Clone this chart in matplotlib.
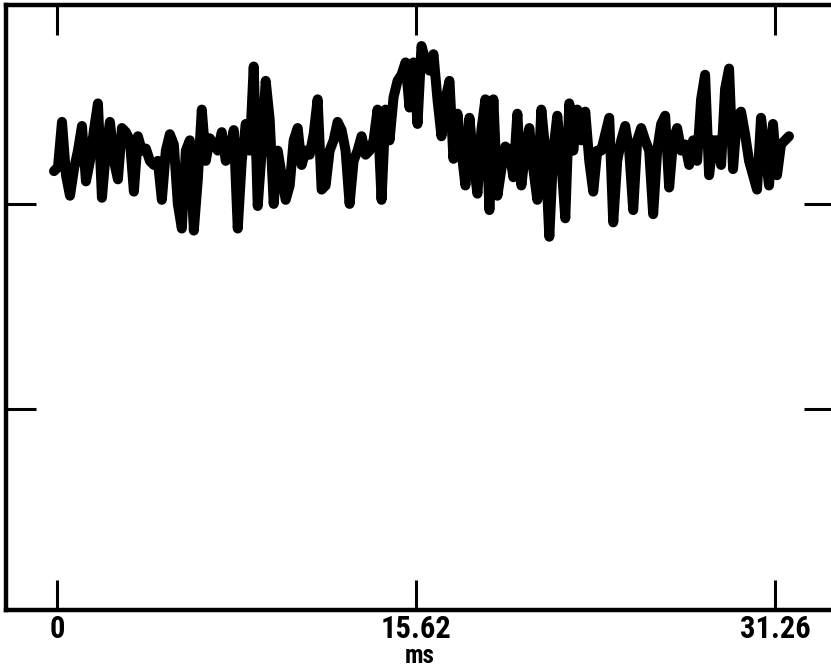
import numpy as np
import matplotlib
matplotlib.use("Agg")
import matplotlib.pyplot as plt
from matplotlib import font_manager as fm

# signal amplitude (arbitrary units), uniformly sampled
signal = [
    1.16, 1.18, 1.40, 1.14, 1.04, 1.17, 1.26, 1.38, 1.11, 1.21,
    1.36, 1.49, 1.03, 1.26, 1.40, 1.21, 1.12, 1.37, 1.35, 1.31,
    1.06, 1.33, 1.26, 1.27, 1.21, 1.19, 1.21, 1.02, 1.26, 1.34,
    1.29, 1.00, 0.88, 1.26, 1.31, 0.87, 1.12, 1.46, 1.21, 1.32,
    1.29, 1.26, 1.35, 1.21, 1.26, 1.36, 0.88, 1.21, 1.39, 1.26,
    1.67, 0.99, 1.26, 1.60, 1.41, 1.00, 1.26, 1.14, 1.02, 1.09,
    1.31, 1.37, 1.19, 1.26, 1.24, 1.34, 1.51, 1.07, 1.09, 1.26,
    1.31, 1.40, 1.36, 1.26, 1.00, 1.21, 1.26, 1.33, 1.24, 1.26,
    1.31, 1.46, 1.02, 1.46, 1.31, 1.52, 1.60, 1.63, 1.69, 1.47,
    1.69, 1.39, 1.77, 1.70, 1.65, 1.73, 1.51, 1.33, 1.51, 1.60,
    1.22, 1.44, 1.26, 1.09, 1.42, 1.21, 1.05, 1.36, 1.51, 0.97,
    1.51, 1.04, 1.17, 1.28, 1.26, 1.13, 1.44, 1.09, 1.26, 1.37,
    1.17, 1.02, 1.46, 1.26, 0.84, 1.26, 1.43, 1.21, 0.93, 1.49,
    1.26, 1.46, 1.31, 1.45, 1.21, 1.06, 1.26, 1.26, 1.34, 1.42,
    0.91, 1.21, 1.31, 1.38, 1.26, 0.97, 1.31, 1.37, 1.31, 1.26,
    0.95, 1.26, 1.39, 1.43, 1.08, 1.31, 1.37, 1.26, 1.29, 1.19,
    1.31, 1.21, 1.51, 1.63, 1.14, 1.31, 1.31, 1.19, 1.56, 1.66,
    1.17, 1.43, 1.45, 1.34, 1.21, 1.14, 1.07, 1.42, 1.26, 1.09,
    1.39, 1.14, 1.29, 1.31, 1.33,
]
t_start = -0.13   # ms
t_end = 31.87     # ms

xtick_vals = [0, 15.62, 31.26]
xtick_labels = ["0", "15.62", "31.26"]
ytick_vals = [0, 1]
x_label = "ms"

# pick a condensed bold face if one is installed
installed = {f.name for f in fm.fontManager.ttflist}
fam = [f for f in ["Roboto Condensed", "Open Sans Condensed",
                   "Liberation Sans Narrow", "DejaVu Sans"] if f in installed]
if not fam:
    fam = ["DejaVu Sans"]
stretch = "condensed"

n = len(signal)
t = np.linspace(t_start, t_end, n)

fig = plt.figure(figsize=(8.31, 6.70), dpi=100)
ax = fig.add_axes([6/831, 1-610/670, (834-6)/831, (610-5)/670])

ax.plot(t, signal, color="black", lw=7.2, solid_joinstyle="round",
        solid_capstyle="round")

ax.set_xlim(-2.22, 33.83)
ax.set_ylim(-0.98, 1.97)

ax.set_xticks(xtick_vals)
ax.set_xticklabels(xtick_labels)
ax.set_yticks(ytick_vals)
ax.set_yticklabels([])

for s in ax.spines.values():
    s.set_linewidth(3.2)
    s.set_color("black")

ax.tick_params(axis="both", which="both", direction="in", length=21.5,
               width=2.2, color="black", top=True, right=True,
               labeltop=False, labelright=False, labelleft=False)
ax.tick_params(axis="x", pad=3)

for lab in ax.get_xticklabels():
    lab.set_fontfamily(fam)
    lab.set_fontweight("bold")
    lab.set_fontstretch(stretch)
    lab.set_fontsize(22)
ax.set_xlabel(x_label, family=fam, fontweight="bold", fontstretch=stretch,
              fontsize=18, labelpad=0)

fig.savefig("out.png", dpi=100)
